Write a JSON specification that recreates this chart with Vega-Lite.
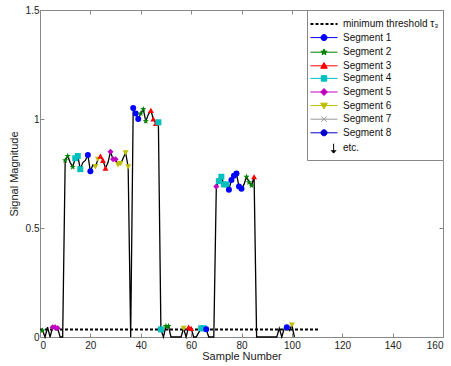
{
  "$schema": "https://vega.github.io/schema/vega-lite/v6.json",
  "width": 403,
  "height": 327,
  "autosize": {"type": "none"},
  "padding": {"left": 40, "top": 10, "right": 8, "bottom": 29},
  "background": "white",
  "config": {
    "font": "Liberation Sans",
    "view": {"stroke": "#888888", "strokeWidth": 1},
    "axis": {
      "grid": false,
      "domain": false,
      "tickColor": "#888888",
      "tickSize": -4,
      "labelColor": "#222222",
      "labelFontSize": 10,
      "labelFont": "Liberation Sans",
      "titleFont": "Liberation Sans",
      "titleFontSize": 11,
      "titleFontWeight": "normal",
      "titleColor": "#222222"
    }
  },
  "datasets": {
    "signal": [
      {"x": 1, "y": 0.03, "seg": "Segment 2"},
      {"x": 2, "y": 0.0, "seg": null},
      {"x": 3, "y": 0.045, "seg": null},
      {"x": 4, "y": 0.0, "seg": null},
      {"x": 5, "y": 0.045, "seg": "Segment 5"},
      {"x": 6, "y": 0.045, "seg": "Segment 5"},
      {"x": 7, "y": 0.04, "seg": "Segment 5"},
      {"x": 8, "y": 0.0, "seg": null},
      {"x": 9, "y": 0.0, "seg": null},
      {"x": 10, "y": 0.81, "seg": "Segment 2"},
      {"x": 11, "y": 0.83, "seg": "Segment 2"},
      {"x": 12, "y": 0.8, "seg": null},
      {"x": 13, "y": 0.78, "seg": "Segment 2"},
      {"x": 14, "y": 0.82, "seg": "Segment 4"},
      {"x": 15, "y": 0.83, "seg": "Segment 4"},
      {"x": 16, "y": 0.77, "seg": "Segment 4"},
      {"x": 17, "y": 0.8, "seg": null},
      {"x": 18, "y": 0.81, "seg": null},
      {"x": 19, "y": 0.835, "seg": "Segment 1"},
      {"x": 20, "y": 0.76, "seg": "Segment 1"},
      {"x": 21, "y": 0.79, "seg": null},
      {"x": 22, "y": 0.78, "seg": "Segment 6"},
      {"x": 23, "y": 0.815, "seg": "Segment 6"},
      {"x": 24, "y": 0.83, "seg": "Segment 3"},
      {"x": 25, "y": 0.81, "seg": "Segment 3"},
      {"x": 26, "y": 0.775, "seg": "Segment 3"},
      {"x": 27, "y": 0.8, "seg": null},
      {"x": 28, "y": 0.85, "seg": "Segment 5"},
      {"x": 29, "y": 0.815, "seg": "Segment 5"},
      {"x": 30, "y": 0.815, "seg": "Segment 5"},
      {"x": 31, "y": 0.79, "seg": "Segment 6"},
      {"x": 32, "y": 0.795, "seg": "Segment 6"},
      {"x": 33, "y": 0.82, "seg": null},
      {"x": 34, "y": 0.845, "seg": "Segment 6"},
      {"x": 35, "y": 0.78, "seg": "Segment 6"},
      {"x": 36, "y": 0.0, "seg": null},
      {"x": 37, "y": 1.05, "seg": "Segment 1"},
      {"x": 38, "y": 1.025, "seg": "Segment 1"},
      {"x": 39, "y": 1.0, "seg": "Segment 1"},
      {"x": 40, "y": 1.025, "seg": "Segment 2"},
      {"x": 41, "y": 1.045, "seg": "Segment 2"},
      {"x": 42, "y": 0.99, "seg": "Segment 2"},
      {"x": 43, "y": 1.02, "seg": null},
      {"x": 44, "y": 1.04, "seg": "Segment 3"},
      {"x": 45, "y": 1.0, "seg": "Segment 3"},
      {"x": 46, "y": 0.98, "seg": "Segment 3"},
      {"x": 47, "y": 0.985, "seg": "Segment 4"},
      {"x": 48, "y": 0.035, "seg": "Segment 4"},
      {"x": 49, "y": 0.0, "seg": null},
      {"x": 50, "y": 0.05, "seg": "Segment 2"},
      {"x": 51, "y": 0.05, "seg": "Segment 2"},
      {"x": 52, "y": 0.0, "seg": null},
      {"x": 53, "y": 0.0, "seg": null},
      {"x": 54, "y": 0.0, "seg": null},
      {"x": 55, "y": 0.0, "seg": null},
      {"x": 56, "y": 0.0, "seg": null},
      {"x": 57, "y": 0.04, "seg": "Segment 6"},
      {"x": 58, "y": 0.0, "seg": null},
      {"x": 59, "y": 0.045, "seg": "Segment 3"},
      {"x": 60, "y": 0.04, "seg": "Segment 3"},
      {"x": 61, "y": 0.0, "seg": null},
      {"x": 62, "y": 0.0, "seg": null},
      {"x": 63, "y": 0.02, "seg": null},
      {"x": 64, "y": 0.04, "seg": "Segment 4"},
      {"x": 65, "y": 0.04, "seg": "Segment 4"},
      {"x": 66, "y": 0.035, "seg": "Segment 1"},
      {"x": 67, "y": 0.0, "seg": null},
      {"x": 68, "y": 0.0, "seg": null},
      {"x": 69, "y": 0.0, "seg": null},
      {"x": 70, "y": 0.69, "seg": "Segment 5"},
      {"x": 71, "y": 0.715, "seg": "Segment 4"},
      {"x": 72, "y": 0.735, "seg": "Segment 4"},
      {"x": 73, "y": 0.7, "seg": "Segment 4"},
      {"x": 74, "y": 0.7, "seg": "Segment 4"},
      {"x": 75, "y": 0.675, "seg": "Segment 1"},
      {"x": 76, "y": 0.72, "seg": "Segment 1"},
      {"x": 77, "y": 0.74, "seg": "Segment 1"},
      {"x": 78, "y": 0.75, "seg": "Segment 1"},
      {"x": 79, "y": 0.69, "seg": "Segment 1"},
      {"x": 80, "y": 0.68, "seg": "Segment 1"},
      {"x": 81, "y": 0.7, "seg": null},
      {"x": 82, "y": 0.735, "seg": "Segment 2"},
      {"x": 83, "y": 0.71, "seg": "Segment 2"},
      {"x": 84, "y": 0.695, "seg": "Segment 2"},
      {"x": 85, "y": 0.735, "seg": "Segment 3"},
      {"x": 86, "y": 0.0, "seg": null},
      {"x": 87, "y": 0.0, "seg": null},
      {"x": 88, "y": 0.0, "seg": null},
      {"x": 89, "y": 0.0, "seg": null},
      {"x": 90, "y": 0.0, "seg": null},
      {"x": 91, "y": 0.0, "seg": null},
      {"x": 92, "y": 0.0, "seg": null},
      {"x": 93, "y": 0.0, "seg": null},
      {"x": 94, "y": 0.0, "seg": null},
      {"x": 95, "y": 0.04, "seg": null},
      {"x": 96, "y": 0.0, "seg": null},
      {"x": 97, "y": 0.04, "seg": null},
      {"x": 98, "y": 0.045, "seg": "Segment 1"},
      {"x": 99, "y": 0.03, "seg": null},
      {"x": 100, "y": 0.055, "seg": "Segment 6"},
      {"x": 101, "y": 0.0, "seg": null}
    ],
    "threshold": [
      {"x": 0, "y": 0.034, "seg": "minimum threshold τ₃"},
      {"x": 111, "y": 0.034, "seg": "minimum threshold τ₃"}
    ]
  },
  "layer": [
    {
      "data": {"name": "signal"},
      "mark": {"type": "line", "color": "black", "strokeWidth": 1.3},
      "encoding": {
        "x": {
          "field": "x", "type": "quantitative",
          "scale": {"domain": [0, 160], "nice": false, "zero": false},
          "axis": {"orient": "bottom", "values": [0, 20, 40, 60, 80, 100, 120, 140, 160], "title": "Sample Number", "labelPadding": 7, "titlePadding": 0}
        },
        "y": {
          "field": "y", "type": "quantitative",
          "scale": {"domain": [0, 1.5], "nice": false},
          "axis": {"orient": "left", "values": [0, 0.5, 1, 1.5], "format": "~g", "title": "Signal Magnitude", "labelPadding": 5, "titlePadding": 6}
        }
      }
    },
    {
      "data": {"name": "threshold"},
      "mark": {"type": "line", "strokeWidth": 2, "strokeDash": [3, 2]},
      "encoding": {
        "x": {"field": "x", "type": "quantitative", "axis": {"orient": "top", "values": [0, 20, 40, 60, 80, 100, 120, 140, 160], "labels": false, "title": null}},
        "y": {"field": "y", "type": "quantitative", "axis": {"orient": "right", "values": [0, 0.5, 1, 1.5], "labels": false, "title": null}},
        "color": {
          "field": "seg", "type": "nominal",
          "scale": {
            "domain": ["minimum threshold τ₃", "Segment 1", "Segment 2", "Segment 3", "Segment 4", "Segment 5", "Segment 6", "Segment 7", "Segment 8", "etc."],
            "range": ["#000000", "#0000ff", "#008000", "#ff0000", "#00bfbf", "#bf00bf", "#bfbf00", "#999999", "#0000cc", "#000000"]
          },
          "legend": {
            "title": " ",
            "titleFontSize": 3,
            "titlePadding": 2,
            "orient": "top-right",
            "offset": 0,
            "strokeColor": "#888888",
            "fillColor": "white",
            "padding": 4,
            "symbolSize": 121,
            "symbolStrokeWidth": 1,
            "labelFontSize": 10,
            "labelFont": "Liberation Sans",
            "labelColor": "#111111",
            "labelOffset": 22,
            "rowPadding": 2.6,
            "symbolLimit": 0,
            "encode": {
              "symbols": {
                "update": {
                  "shape": {"signal": "datum.value === 'Segment 1' || datum.value === 'Segment 8' ? 'M-1,0H3.91M2.005,0A0.55,0.55,0,1,1,0.905,0A0.55,0.55,0,1,1,2.005,0Z' : datum.value === 'Segment 2' ? 'M-1,0H3.91M1.455,-0.6L1.596,-0.194L2.026,-0.185L1.683,0.074L1.808,0.485L1.455,0.24L1.102,0.485L1.227,0.074L0.884,-0.185L1.314,-0.194Z' : datum.value === 'Segment 3' ? 'M-1,0H3.91M1.455,-0.6L2.055,0.45L0.855,0.45Z' : datum.value === 'Segment 4' ? 'M-1,0H3.91M0.955,-0.5H1.955V0.5H0.955Z' : datum.value === 'Segment 5' ? 'M-1,0H3.91M1.455,-0.65L2.055,0L1.455,0.65L0.855,0Z' : datum.value === 'Segment 6' ? 'M-1,0H3.91M1.455,0.6L2.055,-0.45L0.855,-0.45Z' : datum.value === 'Segment 7' ? 'M-1,0H3.91M0.955,-0.5L1.955,0.5M0.955,0.5L1.955,-0.5' : datum.value === 'etc.' ? 'M3.2,-0.85V0.85M2.75,0.35L3.2,0.85L3.65,0.35' : 'M-1,0H3.91'"},
                  "fill": {"signal": "datum.value === 'minimum threshold τ₃' || datum.value === 'etc.' || datum.value === 'Segment 7' ? 'transparent' : scale('color', datum.value)"},
                  "stroke": {"signal": "datum.value === 'etc.' ? '#000000' : scale('color', datum.value)"},
                  "strokeDash": {"signal": "datum.value === 'minimum threshold τ₃' ? [3, 2] : []"},
                  "strokeWidth": {"signal": "datum.value === 'minimum threshold τ₃' ? 2 : 1"},
                  "opacity": {"value": 1}
                }
              }
            }
          }
        }
      }
    },
    {
      "data": {"name": "signal"},
      "transform": [{"filter": "datum.seg != null"}],
      "mark": {"type": "point", "filled": true, "size": 36, "opacity": 1},
      "encoding": {
        "x": {"field": "x", "type": "quantitative", "axis": null},
        "y": {"field": "y", "type": "quantitative", "axis": null},
        "color": {"field": "seg", "type": "nominal"},
        "shape": {
          "field": "seg", "type": "nominal",
          "scale": {
            "domain": ["Segment 1", "Segment 2", "Segment 3", "Segment 4", "Segment 5", "Segment 6", "Segment 7", "Segment 8"],
            "range": ["circle", "M0,-1.1L0.259,-0.356L1.046,-0.34L0.418,0.136L0.647,0.89L0,0.44L-0.647,0.89L-0.418,0.136L-1.046,-0.34L-0.259,-0.356Z", "triangle-up", "square", "diamond", "triangle-down", "M-1,-1L1,1M-1,1L1,-1", "circle"]
          },
          "legend": null
        }
      }
    }
  ],
  "resolve": {"axis": {"x": "independent", "y": "independent"}}
}
